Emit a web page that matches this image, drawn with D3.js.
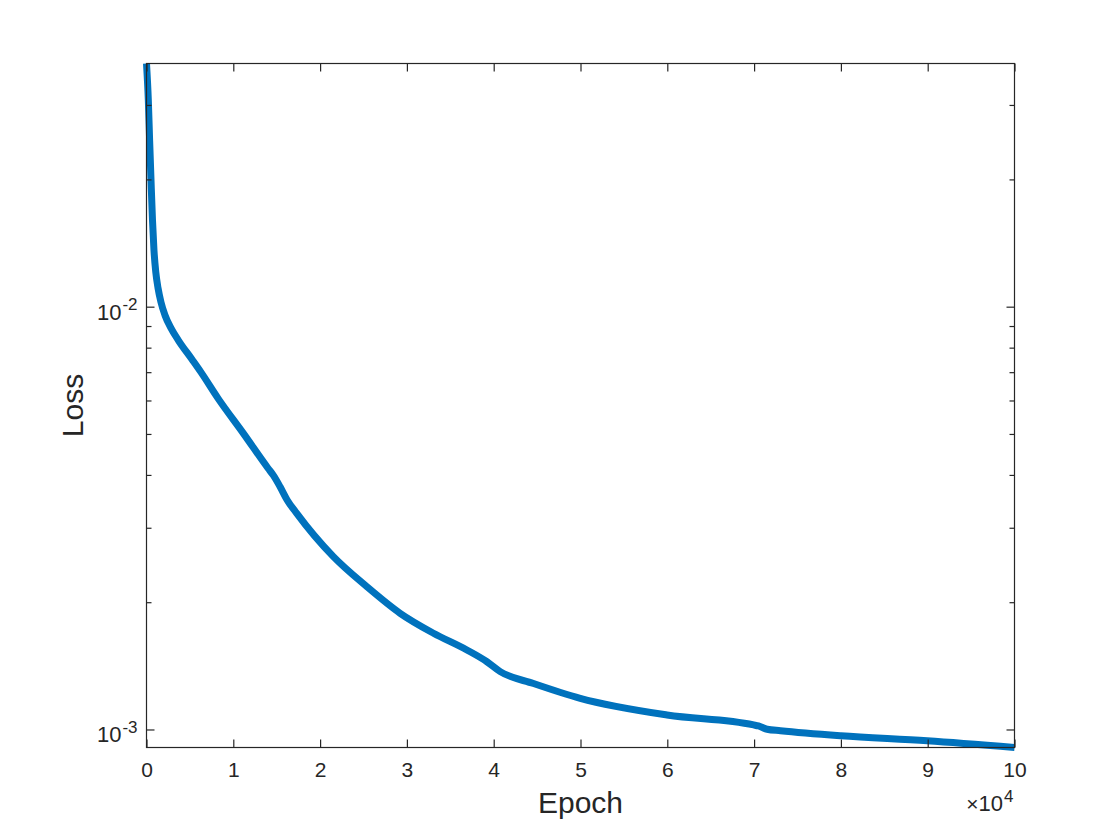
<!DOCTYPE html>
<html>
<head>
<meta charset="utf-8">
<script src="https://cdn.jsdelivr.net/npm/d3@7"></script>
<style>
  html, body { margin: 0; padding: 0; background: #ffffff; }
  svg { display: block; font-family: "Liberation Sans", Arial, Helvetica, sans-serif; }
</style>
</head>
<body>
<svg id="chart" width="1120" height="840"></svg>
<script>
// ---- data ----
const epochs = [0, 210, 360, 520, 690, 860, 1070, 1330, 1670, 2130, 2820, 3670, 5210, 6250, 8280, 11160, 14000, 14620,
  15390, 16200, 17310, 21530, 25380, 29220, 33060, 36910, 39220, 40750, 44590, 49970, 59970, 69950, 70500, 71500,
  73040, 80000, 89940, 100000];
const loss = [0.0377, 0.03087, 0.02482, 0.01996, 0.01606, 0.01364, 0.01210, 0.01109, 0.01027, 0.00957, 0.00892,
  0.00835, 0.00754, 0.00703, 0.00607, 0.00503, 0.00416, 0.00400, 0.00376, 0.00350, 0.003253, 0.002570, 0.002183,
  0.001888, 0.001694, 0.001546, 0.001450, 0.001374, 0.001288, 0.001188, 0.001085, 0.001028, 0.001022, 0.001004,
  0.000996, 0.000969, 0.000943, 0.000909];
const xTicks = [0, 10000, 20000, 30000, 40000, 50000, 60000, 70000, 80000, 90000, 100000];
const yMajorTicks = [0.001, 0.01];
const yMinorTicks = [0.002, 0.003, 0.004, 0.005, 0.006, 0.007, 0.008, 0.009, 0.02, 0.03];
const xScaleExponent = 4;
const xLabel = "Epoch";
const yLabel = "Loss";

(function () {
// ---- layout ----
const svg = d3.select("#chart");
const pLeft = 146.5, pRight = 1014.5, pTop = 63.5, pBottom = 747.5;
const axisColor = "#262626";
const lineColor = "#0072BD";

const x = d3.scaleLinear().domain([0, 100000]).range([pLeft, pRight]);
const y = d3.scaleLog().domain([d3.min(loss), d3.max(loss)]).range([pBottom, pTop]);

const data = epochs.map((e, i) => ({ e, v: loss[i] }));

// data line
const line = d3.line().x(d => x(d.e)).y(d => y(d.v)).curve(d3.curveMonotoneX);
svg.append("path")
  .datum(data)
  .attr("d", line)
  .attr("fill", "none")
  .attr("stroke", lineColor)
  .attr("stroke-width", 7)
  .attr("stroke-linejoin", "round")
  .attr("stroke-linecap", "butt");

// axes box and ticks
const tickLen = 8, minorLen = 5;
const gAx = svg.append("g").attr("stroke", axisColor).attr("stroke-width", 1.2).attr("fill", "none");
gAx.append("rect").attr("x", pLeft).attr("y", pTop).attr("width", pRight - pLeft).attr("height", pBottom - pTop);

// bottom axis using d3 axis (inward ticks)
const xAxisB = d3.axisBottom(x).tickValues(xTicks).tickSizeInner(-tickLen).tickSizeOuter(0)
  .tickPadding(15).tickFormat(d => d3.format("d")(d / Math.pow(10, xScaleExponent)));
const gxb = svg.append("g").attr("transform", `translate(0,${pBottom})`).call(xAxisB);
gxb.select(".domain").remove();
gxb.selectAll(".tick line").attr("stroke", axisColor).attr("stroke-width", 1.2);
gxb.selectAll(".tick text").attr("fill", axisColor).attr("font-size", 21)
  .attr("font-family", "Liberation Sans, Arial, sans-serif");

// top axis ticks (inward)
const xAxisT = d3.axisTop(x).tickValues(xTicks).tickSizeInner(-tickLen).tickSizeOuter(0).tickFormat("");
const gxt = svg.append("g").attr("transform", `translate(0,${pTop})`).call(xAxisT);
gxt.select(".domain").remove();
gxt.selectAll(".tick line").attr("stroke", axisColor).attr("stroke-width", 1.2);

// y ticks: major and minor on both sides
function yTicksSide(xpos, dir) {
  yMajorTicks.forEach(t => {
    gAx.append("line").attr("x1", xpos).attr("x2", xpos + dir * tickLen).attr("y1", y(t)).attr("y2", y(t));
  });
  yMinorTicks.forEach(t => {
    gAx.append("line").attr("x1", xpos).attr("x2", xpos + dir * minorLen).attr("y1", y(t)).attr("y2", y(t));
  });
}
yTicksSide(pLeft, 1);
yTicksSide(pRight, -1);

// y tick labels 10^n
yMajorTicks.forEach(t => {
  const exp = Math.round(Math.log10(t));
  const tx = svg.append("text")
    .attr("x", pLeft - 9).attr("y", y(t) + 12.5)
    .attr("text-anchor", "end")
    .attr("fill", axisColor)
    .attr("font-size", 22);
  tx.append("tspan").text("10");
  tx.append("tspan").attr("dy", -9.5).attr("dx", 1).attr("font-size", 17).text(String(exp));
});

// x scale exponent label
const xe = svg.append("text")
  .attr("x", pRight - 1).attr("y", 811)
  .attr("text-anchor", "end")
  .attr("fill", axisColor)
  .attr("font-size", 22);
xe.append("tspan").attr("font-size", 21).text("\u00D7");
xe.append("tspan").text("10");
xe.append("tspan").attr("dy", -9.5).attr("dx", 1).attr("font-size", 17).text(String(xScaleExponent));

// axis labels
svg.append("text")
  .attr("x", (pLeft + pRight) / 2).attr("y", 813)
  .attr("text-anchor", "middle")
  .attr("fill", axisColor)
  .attr("font-size", 30)
  .text(xLabel);

svg.append("text")
  .attr("transform", `translate(83,${(pTop + pBottom) / 2}) rotate(-90)`)
  .attr("text-anchor", "middle")
  .attr("fill", axisColor)
  .attr("font-size", 30)
  .text(yLabel);
})();
</script>
</body>
</html>
